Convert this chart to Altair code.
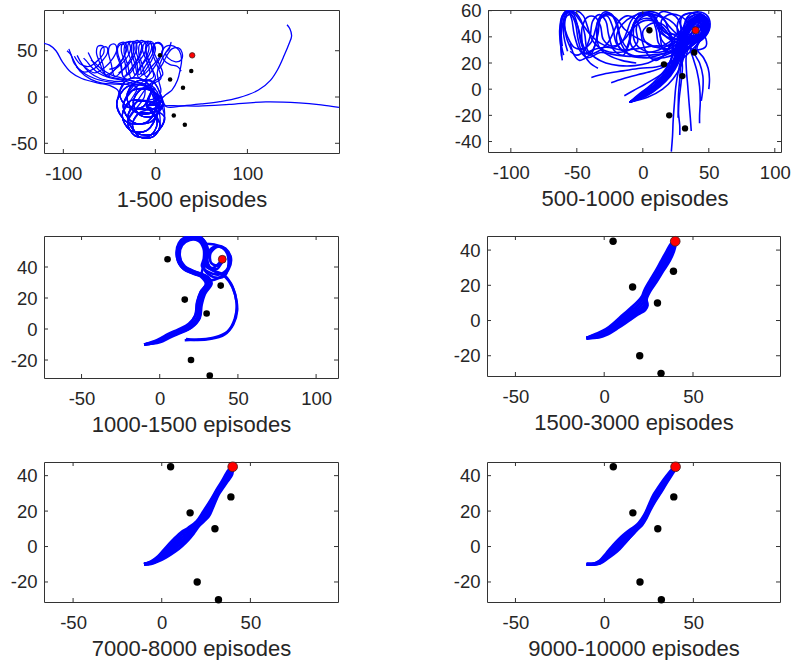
import altair as alt
import pandas as pd

# ---------------------------------------------------------------- data
OBST_X = [5, 16, 39, 30, 20, 32]
OBST_Y = [45, 19, 28, 10, -20, -30]
GOAL_X = [40]
GOAL_Y = [45]

TITLES = ["1-500 episodes", "500-1000 episodes", "1000-1500 episodes",
          "1500-3000 episodes", "7000-8000 episodes", "9000-10000 episodes"]

X_TICKS_1 = [-100, 0, 100]
Y_TICKS_1 = [-50, 0, 50]
X_TICKS_2 = [-100, -50, 0, 50, 100]
Y_TICKS_2 = [-40, -20, 0, 20, 40, 60]
X_TICKS_3 = [-50, 0, 50, 100]
Y_TICKS_3 = [-20, 0, 20, 40]
X_TICKS_4 = [-50, 0, 50]
Y_TICKS_4 = [-20, 0, 20, 40]

# episodes 1-500
RUNS_1 = [
    [(-10,-10),(5,-10),(-5,-27),(-25,-27),(-35,-10),(-25,7),(-5,7),(2,-8),(-9,-27),(-31,-27),(-42,-8),(-40,6),(-50,12.5),(-62,15),(-80,20),(-92,27),(-101,38),(-108,50),(-115,56),(-121,58)],
    [(-10,-10),(0,-20),(-9,-36),(-27,-36),(-36,-20),(-27,-4),(-9,-4),(7,0),(-2.5,-16.5),(-21.5,-16.5),(-31,0),(-21.5,16.5),(-32,14),(-45,14),(-58,15),(-70,19),(-82,28),(-89,40),(-94,52)],
    [(-10,-10),(10,-22),(0,-39),(-20,-39),(-30,-22),(-20,-5),(0,-5),(-5,4),(-13.5,-10.7),(-30.5,-10.7),(-39,4),(-34,16),(-45,17),(-60,20),(-72,27),(-80,36),(-85,45)],
    [(-10,-10),(5,-10),(-5,-27),(-25,-27),(-35,-10),(-25,7),(-5,7),(8,-6),(0,-20),(-16,-20),(-24,-6),(-16,8),(-4,14),(6,20),(2,34),(-3,47),(-2,56),(3,59),(8,55),(7,46),(0,34),(-10,22),(-14,34),(-18,48),(-17,57),(-11,60),(-7,55),(-9,45),(-16,33),(-26,20),(-30,34),(-34,49),(-32,58),(-26,60),(-23,53),(-26,43),(-34,31),(-44,22),(-48,36),(-51,49),(-49,56),(-44,57),(-42,51),(-46,42),(-55,32),(-66,26),(-76,32)],
    [(-10,-10),(2,-8),(-9,-27),(-31,-27),(-42,-8),(-31,11),(-9,11),(2,-28),(-6,-42),(-22,-42),(-30,-28),(-22,-14),(-12,0),(-10,16),(-2,22),(-6,36),(-10,48),(-9,55),(-4,58),(0,53),(-2,44),(-8,33),(-18,21),(-22,35),(-26,49),(-25,58),(-19,61),(-15,56),(-17,46),(-24,34),(-34,21),(-38,35),(-42,47),(-40,55),(-35,57),(-32,51),(-35,42),(-43,31),(-53,22),(-57,35),(-60,46),(-58,53),(-53,54),(-52,48),(-57,40),(-66,31),(-78,27),(-86,33)],
    [(-10,-10),(7,0),(-2.5,-16.5),(-21.5,-16.5),(-31,0),(-21.5,16.5),(-2.5,16.5),(10,-22),(0,-39),(-20,-39),(-30,-22),(-20,-5),(-8,12),(0,20),(-5,33),(-10,46),(-10,56),(-5,60),(-1,56),(-3,47),(-10,35),(-18,24),(-20,36),(-24,50),(-23,58),(-17,59),(-14,53),(-17,44),(-25,32),(-35,22),(-37,35),(-41,48),(-40,57),(-34,59),(-31,53),(-34,44),(-43,32),(-50,30)],
    [(-10,-10),(8,-6),(0,-20),(-16,-20),(-24,-6),(-16,8),(0,8),(4,-8),(-9,-36),(-27,-36),(-36,-20),(-27,-4),(-9,-4),(-2,16),(8,24),(3,38),(-2,50),(-1,57),(4,58),(8,53),(5,44),(-3,34),(-14,24),(-17,37),(-21,50),(-20,58),(-14,61),(-10,56),(-12,47),(-20,36),(-30,24),(-33,37),(-37,50),(-36,57),(-30,59),(-27,53),(-30,44),(-40,33),(-54,24),(-60,36),(-64,48),(-62,55),(-57,55),(-56,48),(-62,40),(-72,33),(-82,36),(-88,44)],
    [(-10,-10),(-5,4),(-13.5,-10.7),(-30.5,-10.7),(-39,4),(-30.5,18.7),(-13.5,18.7),(5,-10),(-5,-27),(-25,-27),(-35,-10),(-25,7),(-12,18),(-6,26),(-10,40),(-14,51),(-12,58),(-7,60),(-4,54),(-7,45),(-14,35),(-22,24),(-26,38),(-30,51),(-29,58),(-23,60),(-20,54),(-23,45),(-31,33),(-40,26)],
    [(-10,-10),(2,-28),(-6,-42),(-22,-42),(-30,-28),(-22,-14),(-6,-14),(5,-30),(-2.5,-43),(-17.5,-43),(-25,-30),(-17.5,-17),(0,-12),(10,-9.5),(25,-9.5),(47,-9.8),(80,-8),(120,-5.2),(156,-6.3),(180,-8.5),(199.5,-11.2)],
    [(-10,-10),(7,0),(-2.5,-16.5),(-21.5,-16.5),(-31,0),(-21.5,16.5),(-2.5,16.5),(6,2),(12,-10.5),(30,-9.5),(50,-7.5),(70,-5),(90,-1),(112,7.5),(125,18),(133,30),(140,45),(145,57),(148,66),(146,74),(143,78)],
    [(-10,-10),(10,-22),(0,-39),(-20,-39),(-30,-22),(-20,-5),(0,-5),(6,6),(4,16),(2,26),(5,36),(10,46),(16,55),(17,59),(15,52),(11,47),(14,42),(22,38),(28,40),(29,48),(25,53),(18,52),(12,44),(8,36),(4,30)],
    [(-10,-10),(0,-20),(-9,-36),(-27,-36),(-36,-20),(-27,-4),(-9,-4),(4,-8),(6,-3),(12,3),(18,7.5),(24,18),(27,30),(28.5,40),(26,50),(20,55),(12,55),(7,48),(9,40),(16,35),(24,33),(28,28)],
    [(-10,-10),(5,-30),(-2.5,-43),(-17.5,-43),(-25,-30),(-17.5,-17),(-2.5,-17),(2,-8),(-9,-27),(-31,-27),(-42,-8),(-31,11),(-9,11),(8,-6),(0,-20),(-16,-20),(-24,-6),(-16,8),(0,8)],
    [(-10,-10),(-5,4),(-13.5,-10.7),(-30.5,-10.7),(-39,4),(-30.5,18.7),(-13.5,18.7),(10,-22),(0,-39),(-20,-39),(-30,-22),(-20,-5),(0,-5),(7,0),(-2.5,-16.5),(-21.5,-16.5),(-31,0),(-21.5,16.5),(-2.5,16.5)],
    [(-10,-10),(2,-28),(-6,-42),(-22,-42),(-30,-28),(-22,-14),(-6,-14),(5,-10),(-5,-27),(-25,-27),(-35,-10),(-25,7),(-5,7),(5,-30),(-2.5,-43),(-17.5,-43),(-25,-30),(-17.5,-17)],
    [(-10,-10),(8,-6),(0,-20),(-16,-20),(-24,-6),(-16,8),(0,8),(-8,14),(-22,14),(-36,18),(-50,21),(-62,26),(-70,33),(-75,39),(-78,42)],
    [(-10,-10),(5,-30),(-2.5,-43),(-17.5,-43),(-25,-30),(-17.5,-17),(-2.5,-17),(4,-4),(-6,10),(-20,16),(-34,20),(-48,24),(-58,30),(-65,36),(-70,40)],
    [(-10,-10),(2,-8),(-9,-27),(-31,-27),(-42,-8),(-31,11),(-14,14),(-28,18),(-42,20),(-55,24),(-64,32),(-70,42),(-73,48)],
    [(-10,-10),(0,-20),(-9,-36),(-27,-36),(-36,-20),(-27,-4),(-20,10),(-34,14),(-50,16),(-66,20),(-78,26),(-88,36),(-92,46),(-96,50)],
]

# episodes 500-1000
RUNS_2 = [
    [(-10,-10),(0,-5),(10,1),(18,8),(24,16),(28,26),(31,36),(34,46),(38,54),(45,57),(49,50),(46,41),(39,39),(34,44),(37,52),(44,53),(47,46)],
    [(-10,-10),(-2,-3),(8,4),(16,12),(21,22),(25,32),(28,42),(33,51),(40,57),(48,55),(50,47),(45,40),(38,37),(32,42),(34,50),(41,53),(45,47)],
    [(-10,-10),(4,-6),(15,0),(23,8),(29,18),(32,28),(35,38),(39,46),(44,53),(38,58),(30,56),(29,48),(34,42),(42,41),(47,46)],
    [(-10,-10),(1,-4),(11,3),(19,11),(25,21),(29,31),(33,41),(38,49),(45,52),(48,45),(43,39),(36,40),(28,38),(20,33),(14,38),(12,48),(8,57),(0,58),(-6,52),(-9,42),(-12,32),(-17,40),(-20,52),(-25,58),(-31,56),(-34,46),(-36,34),(-40,26),(-45,33),(-49,47),(-53,58),(-58,59),(-62,50),(-62,36),(-61.5,25)],
    [(-10,-10),(3,-3),(13,5),(20,14),(24,25),(27,35),(31,45),(36,53),(43,56),(48,50),(44,42),(35,38),(26,35),(18,30),(12,35),(10,46),(6,55),(-1,57),(-7,50),(-10,38),(-14,29),(-20,35),(-23,48),(-27,56),(-32,54),(-34,42),(-38,30),(-43,27),(-47,36),(-50,50),(-55,57),(-59,54),(-60,42),(-57,29)],
    [(-10,-10),(0,-2),(9,6),(17,15),(23,26),(28,37),(33,47),(39,55),(46,55),(49,47),(44,38),(36,36),(27,33),(20,28),(15,31),(13,42),(10,52),(4,57),(-3,55),(-8,46),(-10,36),(-15,26),(-22,30),(-26,42),(-28,52),(-33,57),(-38,52),(-40,40),(-44,30),(-50,26),(-55,29)],
    [(-10,-10),(2,-2),(12,6),(20,15),(26,26),(30,36),(34,45),(40,52),(46,48),(42,40),(34,36),(25,30),(15,27),(4,26),(-8,25),(-20,26),(-32,28),(-42,24),(-48,30),(-52,42),(-54,54),(-57,60),(-61,56),(-63,45),(-62,32)],
    [(-10,-10),(4,-4),(14,4),(21,13),(26,24),(30,35),(35,45),(41,52),(47,50),(46,41),(38,35),(28,27),(20,20),(10,17),(-2,16),(-15,14),(-28,12),(-39,9)],
    [(-10,-10),(0,-6),(10,0),(19,9),(25,19),(29,30),(33,40),(37,50),(44,55),(49,49),(45,39),(36,33),(27,24),(18,18),(8,14),(-4,11),(-15,8),(-24,5)],
    [(-10,-10),(3,-5),(13,2),(21,10),(27,20),(31,31),(36,42),(42,48),(47,43),(40,33),(31,24),(22,17),(12,10),(2,4),(-7,-1),(-14,-5)],
    [(-10,-10),(2,-4),(12,3),(20,11),(26,21),(30,32),(34,43),(40,51),(46,49),(45,40),(37,33),(30,25),(27,14),(25,2),(24,-10),(23,-24),(22.5,-36),(21.6,-47.7)],
    [(-10,-10),(1,-5),(11,2),(19,10),(25,20),(29,30),(33,40),(39,48),(45,45),(40,36),(33,30),(29,20),(28,8),(27,-5),(27,-18),(28,-28),(28,-35)],
    [(-10,-10),(3,-3),(13,5),(21,14),(27,25),(31,36),(36,46),(42,52),(48,49),(45,40),(41,31),(46,24),(49.5,16),(50.5,8),(50,0)],
    [(-10,-10),(0,-3),(10,4),(18,12),(24,23),(28,34),(32,44),(38,52),(46,52),(47,43),(41,34),(39,28),(43,20),(45.5,10),(45.5,0),(44.3,-9)],
    [(-10,-10),(2,-5),(12,2),(20,10),(26,20),(30,31),(34,41),(39,49),(45,47),(42,38),(36,31),(38,24),(41,14),(43,2),(43.5,-10),(43,-20),(43,-26)],
    [(-10,-10),(1,-4),(11,3),(19,12),(25,22),(29,33),(33,43),(38,51),(45,50),(43,41),(36,34),(33,26),(33,15),(34,3),(35,-10),(36,-22),(36.7,-32)],
    [(-10,-10),(0,-4),(10,2),(18,10),(24,20),(28,31),(32,42),(37,50),(44,50),(42,42),(35,35),(30,27),(30,16),(29,5),(27.5,-8),(26.7,-21.8)],
    [(-10,-10),(2,-3),(12,5),(20,14),(25,24),(29,34),(33,44),(38,52),(45,56),(49,50),(45,42),(37,38),(27,34),(18,33),(8,33),(-4,31),(-16,30),(-28,32),(-38,30),(-45,27),(-49,38),(-51,50),(-55,58),(-60,57),(-62,46),(-61,33)],
    [(-10,-10),(1,-4),(11,4),(19,13),(24,23),(28,33),(32,43),(37,51),(44,55),(48,49),(44,41),(36,39),(27,40),(20,44),(17,52),(11,58),(3,59),(-4,55),(-7,46),(-6,36),(0,30),(10,28),(18,30),(22,36)],
    [(-10,-10),(2,-3),(12,4),(20,12),(25,22),(29,32),(33,42),(38,50),(45,53),(48,46),(42,40),(33,37),(24,31),(12,26),(0,24),(-10,26),(-16,34),(-19,46),(-23,56),(-29,59),(-34,52),(-35,42),(-33,32),(-26,26),(-16,22),(-5,20)],
    [(-10,-10),(4,-4),(14,4),(22,14),(27,25),(31,36),(35,46),(41,53),(47,52),(47,43),(40,38),(30,37),(22,40),(14,46),(8,52),(0,52),(-8,46),(-14,38),(-22,32),(-32,35),(-40,42),(-46,50),(-52,58),(-57,60),(-61,56),(-62.5,45),(-62,30),(-61,22)],
    [(-10,-10),(3,-4),(13,4),(21,13),(26,24),(30,35),(35,45),(41,53),(47,53),(49,45),(43,38),(34,38),(26,42),(20,48),(14,55),(6,57),(-2,54),(-5,46),(-4,36),(-10,30),(-20,28),(-30,30),(-38,37),(-42,48),(-45,56),(-50,60),(-56,60),(-59,52),(-58,40),(-54,30)],
    [(-10,-10),(1,-3),(11,5),(19,14),(25,25),(29,36),(33,46),(39,54),(46,56),(50,49),(46,40),(38,36),(30,32),(22,28),(12,24),(4,20),(-6,18),(-18,18),(-28,20),(-36,24),(-42,30),(-44,42),(-47,53),(-52,59),(-58,58),(-61,48),(-62,36),(-60,26)],
    [(-10,-10),(2,-4),(12,3),(20,12),(26,22),(30,33),(34,43),(39,51),(46,54),(49,47),(45,39),(37,37),(29,38),(22,34),(16,26),(10,22),(4,26),(0,35),(-2,46),(-6,54),(-12,56),(-18,52),(-22,44),(-26,36),(-32,30),(-40,26),(-48,22),(-52,26),(-55,35)],
    [(-10,-10),(3,-3),(14,5),(22,15),(27,26),(31,37),(36,47),(42,54),(48,51),(47,42),(40,37),(31,35),(22,37),(15,43),(11,52),(5,58),(-3,58),(-9,52),(-12,44),(-16,36),(-24,33),(-30,38),(-32,48),(-36,55),(-42,55),(-46,47),(-46,36),(-44,26),(-40,20),(-34,16)],
    [(-10,-10),(0,-4),(10,3),(18,11),(24,21),(28,31),(32,41),(37,50),(43,56),(49,54),(50,45),(44,38),(36,36),(28,34),(20,31),(10,32),(2,36),(-6,40),(-14,46),(-20,54),(-27,57),(-33,54),(-36,45),(-39,36),(-45,31),(-52,32),(-57,40),(-60,50)],
    [(-10,-10),(2,-4),(12,4),(20,13),(25,24),(29,35),(31,45),(33,54),(40,59),(48,57),(51,50),(48,41),(41,36),(34,38),(31,46),(34,54),(42,57),(48,52),(47,44),(41,41),(37,46)],
    [(-10,-10),(1,-4),(11,3),(19,12),(24,22),(27,33),(29,44),(27,53),(21,58),(14,59),(10,53),(12,45),(18,40),(26,38),(34,40),(40,46),(44,52),(48,48)],
    [(-10,-10),(2,-3),(12,5),(19,15),(22,26),(22,36),(18,44),(12,50),(5,54),(-2,53),(-8,47),(-10,38),(-6,30),(2,28),(12,30),(20,34),(27,40),(33,47),(39,52),(45,49)],
    [(-10,-10),(1,-3),(11,4),(19,12),(24,22),(27,32),(30,42),(34,50),(28,56),(20,57),(14,52),(16,44),(24,42),(32,44),(38,50),(44,55),(49,50),(46,42)],
    [(-10,-10),(2,-4),(12,3),(20,11),(26,21),(31,30),(36,38),(42,42),(47,40),(48,33),(42,30),(34,32),(28,38),(26,46),(28,54),(35,58),(43,58),(49,53)],
    [(-10,-10),(0,-3),(10,4),(18,13),(22,24),(23,34),(20,44),(14,50),(6,50),(0,44),(2,36),(10,32),(20,36),(28,44),(36,50),(44,50),(47,44)],
    [(-10,-10),(3,-3),(13,5),(21,15),(26,26),(28,37),(26,47),(20,53),(12,56),(4,58),(-4,57),(-12,53),(-18,46),(-20,38),(-16,30),(-8,26),(4,24),(16,24),(26,28),(34,36),(40,44),(44,50)],
]

# episodes 1000-1500
RUNS_3 = [
    [(-10,-10),(-1,-7.5),(6,-3.5),(12.5,-0.8),(18.6,2.8),(22.6,8.5),(24,17),(26.3,24),(30,29.5),(27,34),(20,36.5),(14,40),(11.5,47),(13,54.5),(18.5,59),(25,58.5),(29,53),(29.5,46),(28,40),(31,35.5),(37,33),(42,35),(44,42),(43,49),(38.5,53),(33,52),(30.5,46),(32,40),(37,39),(40,45)],
    [(-10,-10),(-0.5,-8),(6,-4.5),(12.5,-1.8),(19.4,1.8),(24,7.5),(25.3,16.3),(27.5,23.5),(31.2,29.5),(28.5,34.5),(21,37.5),(15,41),(12.8,47.5),(14.3,54),(19.3,57.5),(24.8,56.8),(28,52),(28.2,45.5),(27,40.5),(31,36.8),(38,35.2),(43.5,39),(45,46),(42,51.5),(37,53),(32.5,49),(33,42.5),(38,41),(41,45)],
    [(-10,-10),(0,-8.5),(6.5,-5.5),(12.3,-3),(20,0.9),(25.2,6.8),(26.4,15.7),(28.5,23),(32.5,29.3),(30,33),(22,35.5),(15,39),(11,46.5),(12.3,55.5),(18,60),(25.5,59.5),(30,54),(30.8,47),(29,41),(33,39),(37,41.5),(40,45)],
    [(-10,-10),(-1,-7.8),(6,-4),(13,-1.3),(19.8,2.2),(24.3,8),(25,16.8),(27,23.6),(30.8,29.8),(28,34),(21,36.8),(14.5,40.5),(12,47.3),(13.5,55),(19,59.3),(25.8,58.3),(29.5,52.5),(29.2,45),(31,39.5),(36.5,36.5),(42,33.5),(46.5,27),(49.2,17),(48,6.5),(43.5,-1.5),(35,-5.5),(25,-6.8),(16,-7.2)],
    [(-10,-10),(-0.7,-8.2),(6.3,-4.8),(12.7,-2.3),(20.3,1),(25.6,7.2),(26.8,15.5),(29,22.8),(33.2,29.3),(30.5,33.8),(23,36.8),(16,40.5),(12.5,47),(13.3,54),(18.3,58.3),(25,57.5),(28.7,52.3),(28.8,46),(30,41),(35,37.5),(41,35),(45.5,29.5),(48.5,21),(49.5,12),(47,3),(41.5,-3.5),(32,-6.5),(22,-7),(16.8,-6.5)],
    [(-10,-10),(-1.5,-7),(5.8,-3),(12,-0.2),(18.6,3.4),(22.9,8.8),(23.9,17.4),(26.1,23.9),(29.5,29),(26,34),(19,37),(13,41.5),(11,48.5),(13.5,56.5),(20,60),(27,58.5),(30.5,52),(30,44.5),(27.5,39),(27,34),(31,31.5),(38,33),(44,38.5),(45.5,46),(42,52),(35,54.5),(28,55)],
]

# episodes 1500-3000
RUNS_4 = [
    [(-10,-10),(-4,-7.5),(1,-5),(6,-1),(10.6,3.2),(15,7),(19,10.8),(21.5,14),(22.8,17.3),(26,23),(29.4,28.7),(32,33.5),(35.1,39.1),(38,44),(40,45)],
    [(-10,-10),(-4,-7.9),(1,-5.6),(6.4,-1.6),(11.3,2.4),(15.8,6),(19.8,9.6),(22,13),(23.4,16.3),(26.6,22),(30.1,27.6),(32.8,32.5),(35.9,38),(38.5,43.5),(40,45)],
    [(-10,-10),(-3.8,-8.3),(1,-6.3),(6.8,-2.3),(12,1.7),(16.6,5),(20.6,8.4),(22.6,11.5),(23.5,15.2),(27.1,21),(30.7,26.6),(33.5,31.5),(36.6,37),(39,43),(40,45)],
    [(-10,-10),(-3.6,-8.7),(1,-7),(7.2,-3),(12.8,1.1),(17.4,4.3),(21.4,7.2),(23.2,10),(23.6,14),(25.7,19.3),(28.6,24.3),(32,29.8),(36,36),(39.2,42.5),(40,45)],
    [(-10,-10),(-3.3,-9.1),(1,-7.6),(7.6,-3.5),(13.5,0.7),(18.2,3.9),(22.2,6.6),(23.9,9.3),(23.7,13),(25.8,18),(29,23.3),(32.5,29),(36.5,35.2),(39.5,42),(40,45)],
    [(-10,-10),(-3,-9.5),(1,-8.2),(8,-4),(14.3,0.3),(19,3.5),(23,6),(24.3,8.5),(23.8,12),(26,17),(29.4,22.1),(33,28),(37,34.3),(39.8,41.5),(40,45)],
]

# episodes 7000-8000
RUNS_5 = [
    [(-10,-10),(-6,-8.5),(-2,-5.6),(2.5,-0.5),(7.6,4.9),(11,8),(15,10.5),(19.8,14.3),(23.6,19.9),(28.3,27.3),(31,32),(34,36.8),(37.7,43),(40,45)],
    [(-10,-10),(-6,-8.8),(-2,-6.2),(2.5,-1.6),(7.6,3.4),(11,6.4),(15,9.2),(20,13.7),(24.2,19.3),(29,27.7),(32,32.7),(34.5,36.6),(38.1,42.5),(40,45)],
    [(-10,-10),(-6,-9),(-2,-6.7),(2.5,-2.7),(7.6,1.9),(11,4.8),(15,7.9),(20.2,13.1),(24.8,18.7),(29.7,28.1),(32.6,32.8),(35,36.4),(38.5,42),(40,45)],
    [(-10,-10),(-6,-9.3),(-2,-7.2),(2.5,-3.8),(7.6,0.4),(11,3.2),(15,6.5),(20.4,12.6),(25.3,18.1),(30.3,28.5),(33.2,33),(35.5,36.2),(38.8,41.5),(40,45)],
    [(-10,-10),(-6,-9.5),(-2,-7.8),(2.5,-4.9),(7.6,-1.1),(11,1.6),(15,5.2),(20.6,12),(25.8,17.6),(31,28.9),(33.8,33.2),(36,36.1),(39.2,41),(40,45)],
    [(-10,-10),(-6,-9.7),(-2,-8.3),(2.5,-6),(7.6,-2.7),(11,0),(15,3.9),(18,7.5),(20.8,11.4),(23.5,14),(26.4,17),(29,22.5),(32,29.3),(36.5,36),(39.6,40.6),(40,45)],
]

# episodes 9000-10000
RUNS_6 = [
    [(-10,-10),(-6,-9.8),(-2.5,-8),(1,-4),(5.1,0.9),(8,4),(10.8,6.6),(14.5,9.5),(18.3,12.2),(21,15.5),(23,18.8),(25.5,24.5),(27.7,29.2),(30.5,33.5),(33.4,37.7),(38,43.4),(40,45)],
    [(-10,-10),(-6,-9.85),(-2.5,-8.3),(1.2,-4.5),(5.5,0.2),(8.6,3.2),(11.5,5.8),(15.2,8.9),(18.8,11.9),(21.5,15.3),(23.6,19.2),(26.1,24.7),(28.5,29.4),(31.4,33.9),(34.5,38.5),(38.3,43.2),(40,45)],
    [(-10,-10),(-6,-9.9),(-2.5,-8.6),(1.4,-5),(5.9,-0.6),(9.2,2.5),(12.2,5),(15.9,8.3),(19.3,11.7),(22,15.4),(24.2,19.7),(26.7,24.9),(29.4,29.6),(32.3,34.3),(35.6,39.3),(38.6,43),(40,45)],
    [(-10,-10),(-6,-9.95),(-2.5,-8.9),(1.6,-5.5),(6.3,-1.4),(9.8,1.9),(13,4.3),(16.6,7.7),(19.9,11.5),(22.5,15.6),(24.6,20),(27.3,25.1),(30.3,29.8),(33.3,34.8),(36.6,40),(38.8,42.8),(40,45)],
    [(-10,-10),(-6,-10),(-2.5,-9.2),(1.8,-6),(6.7,-2.1),(10.4,1.7),(13.8,4.9),(17.3,8.6),(20.5,11.8),(23,15.8),(25.2,20.3),(27.9,25.3),(31,30),(34.2,35.4),(37.8,41.2),(38.9,42.6),(40,45)],
    [(-10,-10),(-6,-10),(-2.5,-9.5),(2,-6.5),(7,-2.8),(11,1.5),(14.5,5.5),(18,9.5),(21.1,12.2),(23.5,16),(25.8,20.7),(28.5,25.5),(31.5,30.2),(35,36),(39,42.4),(40,45)],
]

# ---------------------------------------------------------------- style
FONT = "Liberation Sans"
INK = "#262626"
FRAME = "#333333"
BLUE = "#0000FF"
TICK_LEN = 4

PANELS = [
    dict(runs=RUNS_1, xt=X_TICKS_1, yt=Y_TICKS_1, xd=[-121, 199.5], yd=[-60.5, 94],
         w=295, h=143, lw=1.3, dot=20, goal=30),
    dict(runs=RUNS_2, xt=X_TICKS_2, yt=Y_TICKS_2, xd=[-117.3, 104.7], yd=[-48, 60.5],
         w=293, h=142, lw=1.6, dot=40, goal=50),
    dict(runs=RUNS_3, xt=X_TICKS_3, yt=Y_TICKS_3, xd=[-74, 114], yd=[-31.6, 60],
         w=294, h=142, lw=2.6, dot=44, goal=62),
    dict(runs=RUNS_4, xt=X_TICKS_4, yt=Y_TICKS_4, xd=[-66, 99], yd=[-31.5, 48],
         w=293, h=140, lw=3.0, dot=55, goal=95),
    dict(runs=RUNS_5, xt=X_TICKS_4, yt=Y_TICKS_4, xd=[-66.4, 99.4], yd=[-31.3, 47.7],
         w=294, h=140, lw=3.0, dot=55, goal=95),
    dict(runs=RUNS_6, xt=X_TICKS_4, yt=Y_TICKS_4, xd=[-66, 98.7], yd=[-31.3, 47.7],
         w=293, h=140, lw=3.0, dot=55, goal=95),
]


def runs_frame(runs):
    rows = []
    for r, path in enumerate(runs):
        for s, (x, y) in enumerate(path):
            rows.append({"run": r, "step": s, "x": x, "y": y})
    return pd.DataFrame(rows)


def panel(cfg, title):
    xs = alt.Scale(domain=cfg["xd"], nice=False, zero=False)
    ys = alt.Scale(domain=cfg["yd"], nice=False, zero=False)
    xax = alt.Axis(values=cfg["xt"], title=title, tickSize=0, domain=False, grid=False,
                   labelPadding=11, labelFontSize=18.5, labelColor=INK, labelFlush=False,
                   labelExpr="'' + datum.value", titleFontSize=22, titleColor=INK,
                   titleFontWeight="normal", titlePadding=6.5, labelFont=FONT, titleFont=FONT)
    yax = alt.Axis(values=cfg["yt"], title=None, tickSize=0, domain=False, grid=False,
                   labelPadding=7, labelFontSize=18.5, labelColor=INK,
                   labelExpr="'' + datum.value", labelFont=FONT)
    X = lambda f: alt.X(f, scale=xs, axis=xax)
    Y = lambda f: alt.Y(f, scale=ys, axis=yax)
    w, h = cfg["w"], cfg["h"]

    lines = alt.Chart(runs_frame(cfg["runs"])).mark_line(
        color=BLUE, strokeWidth=cfg["lw"], interpolate="catmull-rom", clip=True
    ).encode(x=X("x:Q"), y=Y("y:Q"), detail="run:N", order="step:Q")

    obst = alt.Chart(pd.DataFrame({"x": OBST_X, "y": OBST_Y})).mark_circle(
        color="#000000", opacity=1, size=cfg["dot"]
    ).encode(x=X("x:Q"), y=Y("y:Q"))

    goal = alt.Chart(pd.DataFrame({"x": GOAL_X, "y": GOAL_Y})).mark_point(
        filled=True, shape="circle", fill="#FF0000", stroke="#402020",
        strokeWidth=0.8, opacity=1, size=cfg["goal"]
    ).encode(x=X("x:Q"), y=Y("y:Q"))

    xt = alt.Chart(pd.DataFrame({"x": cfg["xt"]}))
    yt = alt.Chart(pd.DataFrame({"y": cfg["yt"]}))
    tick = dict(color=FRAME, strokeWidth=1)
    t_bottom = xt.mark_rule(**tick).encode(x=X("x:Q"), y=alt.value(h), y2=alt.value(h - TICK_LEN))
    t_top = xt.mark_rule(**tick).encode(x=X("x:Q"), y=alt.value(0), y2=alt.value(TICK_LEN))
    t_left = yt.mark_rule(**tick).encode(y=Y("y:Q"), x=alt.value(0), x2=alt.value(TICK_LEN))
    t_right = yt.mark_rule(**tick).encode(y=Y("y:Q"), x=alt.value(w), x2=alt.value(w - TICK_LEN))

    return alt.layer(lines, obst, goal, t_bottom, t_top, t_left, t_right).properties(width=w, height=h)


charts = [panel(c, t) for c, t in zip(PANELS, TITLES)]
rows = [alt.hconcat(charts[i], charts[i + 1], spacing=113) for i in (0, 2, 4)]

chart = alt.vconcat(*rows, spacing=23).properties(
    padding={"left": 9, "top": 1, "right": 0, "bottom": 0}
).configure(font=FONT).configure_view(stroke=FRAME, strokeWidth=1)

chart.save("out.html", embed_options={"renderer": "svg", "actions": False})
